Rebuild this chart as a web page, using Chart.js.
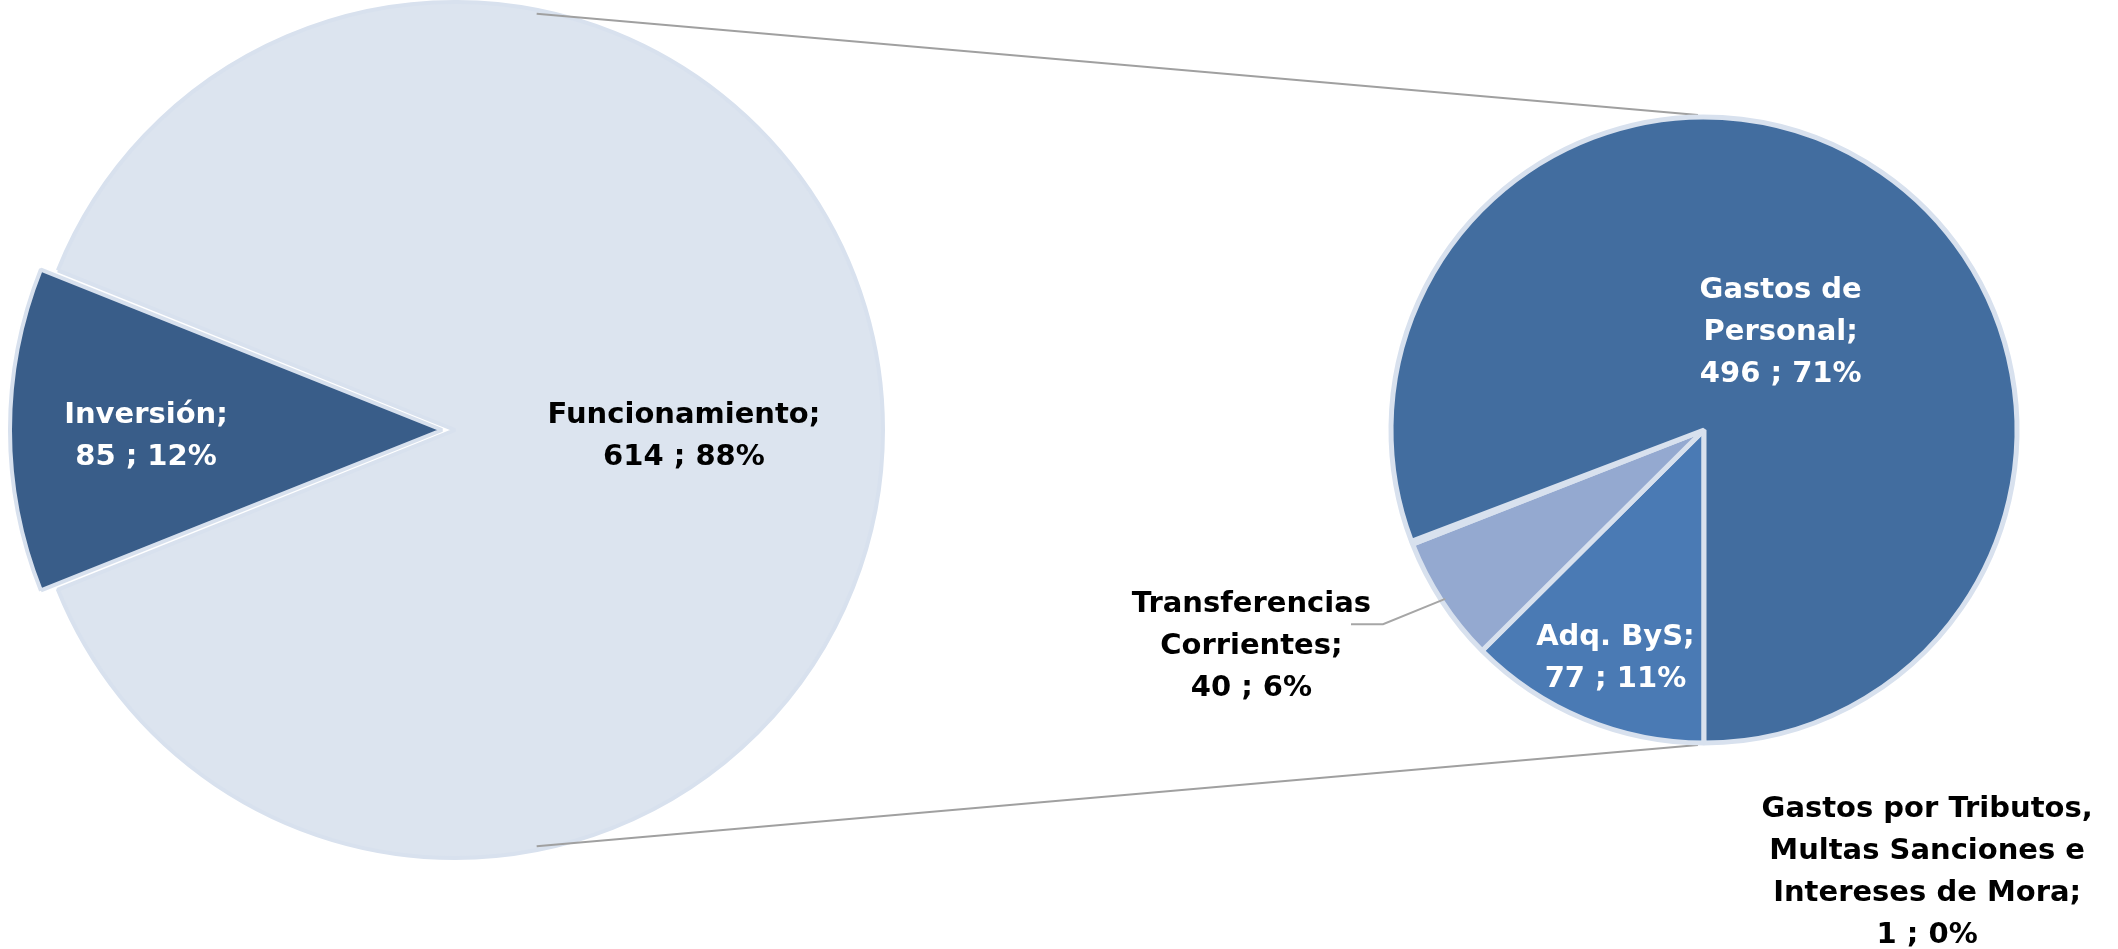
<!DOCTYPE html>
<html>
<head>
<meta charset="utf-8">
<script src="https://cdn.jsdelivr.net/npm/chart.js@4.4.1/dist/chart.umd.min.js"></script>
<style>
    html, body { margin: 0; padding: 0; background: #fff; }
    #wrap { position: relative; width: 2118px; height: 949px; }
    #wrap canvas { position: absolute; left: 0; top: 0; }
</style>
</head>
<body>
<div id="wrap">
    <canvas id="mainPie" width="2118" height="949"></canvas>
    <canvas id="detailPie" width="2118" height="949"></canvas>
</div>
<script>
// Data
const mainLabels = [['Inversión'], ['Funcionamiento']];
const mainValues = [85, 614];

const detailLabels = [
    ['Adq. ByS'],
    ['Transferencias', 'Corrientes'],
    ['Gastos por Tributos,', 'Multas Sanciones e', 'Intereses de Mora'],
    ['Gastos de', 'Personal']
];
const detailValues = [77, 40, 1, 496];

const total = mainValues.reduce((a, b) => a + b, 0);
const FONT = 'bold 29px "DejaVu Sans", sans-serif';
const LINE_H = 42;
const BORDER = '#D8E1EE';

// where each label block sits, as fraction of radius from pie centre
const labelPlace = {
    mainPie: [
        { fx: -0.722, fy: 0.014, color: '#ffffff' },
        { fx: 0.535, fy: 0.014, color: '#000000' }
    ],
    detailPie: [
        { fx: -0.283, fy: 0.731, color: '#ffffff' },
        { fx: -1.446, fy: 0.691, color: '#000000', leader: true },
        { fx: 0.713, fy: 1.414, color: '#000000' },
        { fx: 0.245, fy: -0.312, color: '#ffffff' }
    ]
};

const pieLabels = {
    id: 'pieLabels',
    afterDatasetsDraw(chart) {
        const ctx = chart.ctx;
        const arcs = chart.getDatasetMeta(0).data;
        const ds = chart.data.datasets[0];
        const places = labelPlace[chart.canvas.id];
        const cx = chart.chartArea.left + chart.chartArea.width / 2;
        const cy = chart.chartArea.top + chart.chartArea.height / 2;
        ctx.save();
        ctx.font = FONT;
        ctx.textAlign = 'center';
        ctx.textBaseline = 'middle';
        arcs.forEach((arc, i) => {
            const p = places[i];
            const r = arc.outerRadius;
            const x = cx + p.fx * r;
            const y = cy + p.fy * r;
            const name = chart.data.labels[i].slice();
            name[name.length - 1] += ';';
            const v = ds.data[i];
            const lines = name.concat([v + ' ; ' + Math.round(v / total * 100) + '%']);
            const y0 = y - (lines.length - 1) * LINE_H / 2;

            if (p.leader) {
                const mid = (arc.startAngle + arc.endAngle) / 2;
                const ax = arc.x + Math.cos(mid) * (r - 4);
                const ay = arc.y + Math.sin(mid) * (r - 4);
                const w = ctx.measureText(lines[0]).width;
                const ly = y0 + 20;
                ctx.strokeStyle = '#A6A6A6';
                ctx.lineWidth = 2;
                ctx.beginPath();
                ctx.moveTo(ax, ay);
                ctx.lineTo(x + w / 2 + 12, ly);
                ctx.lineTo(x + w / 2 - 20, ly);
                ctx.stroke();
            }

            ctx.fillStyle = p.color;
            lines.forEach((t, k) => ctx.fillText(t, x, y0 + k * LINE_H));
        });
        ctx.restore();
    }
};

// connector lines between the two pies
const connectors = {
    id: 'connectors',
    beforeDatasetsDraw(chart) {
        const left = Chart.getChart('mainPie');
        if (!left) return;
        const la = left.getDatasetMeta(0).data[1];
        const ra = chart.getDatasetMeta(0).data[0];
        const lcx = left.chartArea.left + left.chartArea.width / 2;
        const lcy = left.chartArea.top + left.chartArea.height / 2;
        const a = 79 * Math.PI / 180;
        const ctx = chart.ctx;
        ctx.save();
        ctx.strokeStyle = '#A0A0A0';
        ctx.lineWidth = 2;
        [-1, 1].forEach(s => {
            ctx.beginPath();
            ctx.moveTo(lcx + Math.cos(a) * la.outerRadius, lcy + s * Math.sin(a) * (la.outerRadius - 4));
            ctx.lineTo(ra.x - 6, ra.y + s * (ra.outerRadius + 2));
            ctx.stroke();
        });
        ctx.restore();
    }
};

const common = {
    responsive: false,
    animation: false,
    events: [],
    plugins: { legend: { display: false }, tooltip: { enabled: false } }
};

// Left pie
new Chart(document.getElementById('mainPie'), {
    type: 'pie',
    data: {
        labels: mainLabels,
        datasets: [{
            data: mainValues,
            backgroundColor: ['#395D89', '#DCE4EF'],
            borderColor: BORDER,
            borderWidth: 4,
            offset: [52, 0],
            radius: 428,
            rotation: 270 - mainValues[0] / total * 180
        }]
    },
    options: {
        ...common,
        layout: { padding: { left: 0, top: 0, right: 1208, bottom: 89 } }
    },
    plugins: [pieLabels]
});

// Right pie
new Chart(document.getElementById('detailPie'), {
    type: 'pie',
    data: {
        labels: detailLabels,
        datasets: [{
            data: detailValues,
            backgroundColor: ['#4A7AB4', '#94A9D0', '#B9C8E0', '#426D9F'],
            borderColor: BORDER,
            borderWidth: 5,
            radius: 313,
            rotation: 180
        }]
    },
    options: {
        ...common,
        layout: { padding: { left: 1290, top: 0, right: 0, bottom: 89 } }
    },
    plugins: [connectors, pieLabels]
});
</script>
</body>
</html>
